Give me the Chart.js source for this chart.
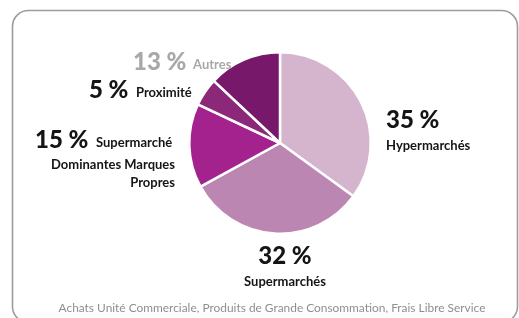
<!DOCTYPE html>
<html><head><meta charset="utf-8">
<script src="https://cdn.jsdelivr.net/npm/chart.js@4/dist/chart.umd.min.js"></script>
<style>html,body{margin:0;padding:0;background:#fff;}#wrap{width:519px;height:318px;position:relative;}</style>
</head><body><div id="wrap"><canvas id="c" width="519" height="318"></canvas></div>
<script>
const categories = ["Hypermarchés", "Supermarchés", "Supermarché Dominantes Marques Propres", "Proximité", "Autres"];
const shares = [35, 32, 15, 5, 13];
const sliceColors = ["#d5b4cd", "#bb87b2", "#a4228e", "#8b2879", "#77186a"];
const footnote = "Achats Unité Commerciale, Produits de Grande Consommation, Frais Libre Service";

// label layout (styling only)
const labelLayout = [
  {big:{x:386,y:128,align:"left"}, small:[{t:"Hypermarchés",x:386,y:150,align:"left"}], color:"#151515"},
  {big:{x:285,y:264,align:"center"}, small:[{t:"Supermarchés",x:285,y:286,align:"center"}], color:"#151515"},
  {big:{x:35,y:148,align:"left"}, small:[{t:"Supermarché",x:96,y:147,align:"left"},{t:"Dominantes Marques",x:175,y:169,align:"right"},{t:"Propres",x:175,y:187,align:"right"}], color:"#151515"},
  {big:{x:89,y:98,align:"left"}, small:[{t:"Proximité",x:136,y:97,align:"left"}], color:"#151515"},
  {big:{x:133,y:70,align:"left"}, small:[{t:"Autres",x:193,y:69,align:"left"}], color:"#a8a8a8"}
];

const deco = {
  id:"deco",
  beforeDraw(chart){
    const ctx = chart.ctx;
    ctx.save();
    ctx.strokeStyle = "#9c9c9c";
    ctx.lineWidth = 1.6;
    ctx.beginPath();
    ctx.roundRect(12.5, 10.5, 505, 312, 16);
    ctx.stroke();
    ctx.restore();
  },
  afterDraw(chart){
    const ctx = chart.ctx;
    ctx.save();
    ctx.textBaseline = "alphabetic";
    shares.forEach((v,i)=>{
      const L = labelLayout[i];
      ctx.fillStyle = L.color;
      ctx.font = "900 24px Lato";
      ctx.textAlign = L.big.align;
      ctx.fillText(v + " %", L.big.x, L.big.y);
      ctx.font = "bold 13px Lato";
      L.small.forEach(s=>{ ctx.textAlign = s.align; ctx.fillText(s.t, s.x, s.y); });
    });
    ctx.fillStyle = "#8e8e8e";
    ctx.font = "11.9px Lato";
    ctx.textAlign = "center";
    ctx.fillText(footnote, 272, 312);
    ctx.restore();
  }
};

new Chart(document.getElementById("c"), {
  type: "pie",
  data: { labels: categories, datasets: [{ data: shares, backgroundColor: sliceColors, borderColor: "#ffffff", borderWidth: 2.5, hoverOffset: 0 }] },
  options: {
    responsive: false,
    animation: false,
    layout: { padding: { left: 188, right: 147, top: 51, bottom: 83 } },
    plugins: { legend: { display: false }, tooltip: { enabled: false } }
  },
  plugins: [deco]
});
</script></body></html>
